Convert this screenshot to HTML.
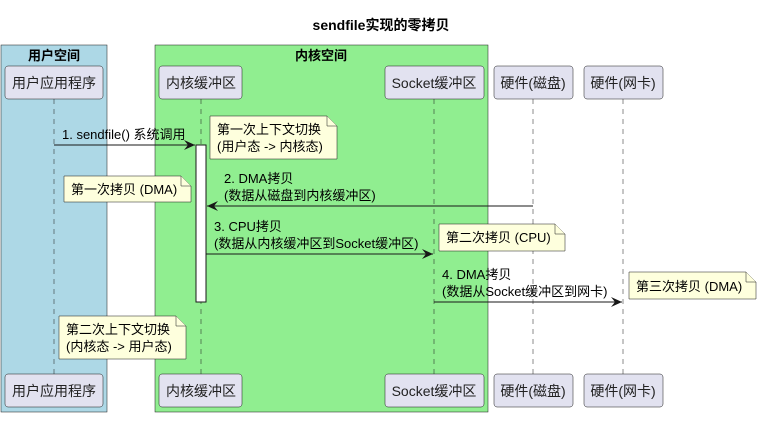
<!DOCTYPE html>
<html><head><meta charset="utf-8"><style>
body{margin:0;background:#fff}
text{font-family:"Liberation Sans","Noto Sans CJK SC",sans-serif;font-size:13px;fill:#000}
.p text{font-size:14px;fill:#222}
</style></head><body>
<svg width="762" height="417" xmlns="http://www.w3.org/2000/svg">
<defs><marker id="a" markerWidth="12" markerHeight="10" refX="11" refY="5" orient="auto" markerUnits="userSpaceOnUse"><path d="M0,0 L11,5 L0,10 L4,5 Z" fill="#181818"/></marker></defs>
<text x="381" y="30" text-anchor="middle" font-weight="bold" style="font-size:14px">sendfile实现的零拷贝</text>
<rect x="1" y="45" width="106" height="367" fill="#ADD8E6" stroke="#181818" stroke-width="0.5"/>
<text x="54" y="60" text-anchor="middle" font-weight="bold">用户空间</text>
<rect x="155" y="45" width="333" height="367" fill="#90EE90" stroke="#181818" stroke-width="0.5"/>
<text x="321" y="60" text-anchor="middle" font-weight="bold">内核空间</text>
<g stroke="#181818" stroke-width="0.5" stroke-dasharray="5,5">
<line x1="54" y1="99" x2="54" y2="374"/><line x1="201" y1="99" x2="201" y2="374"/><line x1="434" y1="99" x2="434" y2="374"/><line x1="533" y1="99" x2="533" y2="374"/><line x1="623" y1="99" x2="623" y2="374"/>
</g>
<g fill="#E2E2F0" stroke="#181818" stroke-width="0.5">
<rect x="5" y="66" width="98" height="33" rx="3"/><rect x="159" y="66" width="83" height="33" rx="3"/><rect x="385" y="66" width="99" height="33" rx="3"/><rect x="494" y="66" width="79" height="33" rx="3"/><rect x="584" y="66" width="79" height="33" rx="3"/>
<rect x="5" y="374" width="98" height="33" rx="3"/><rect x="159" y="374" width="83" height="33" rx="3"/><rect x="385" y="374" width="99" height="33" rx="3"/><rect x="494" y="374" width="79" height="33" rx="3"/><rect x="584" y="374" width="79" height="33" rx="3"/>
</g>
<g class="p" text-anchor="middle">
<text x="54" y="88">用户应用程序</text><text x="201" y="88">内核缓冲区</text><text x="434" y="88">Socket缓冲区</text><text x="533" y="88">硬件(磁盘)</text><text x="623" y="88">硬件(网卡)</text>
<text x="54" y="396">用户应用程序</text><text x="201" y="396">内核缓冲区</text><text x="434" y="396">Socket缓冲区</text><text x="533" y="396">硬件(磁盘)</text><text x="623" y="396">硬件(网卡)</text>
</g>
<rect x="196" y="145" width="10" height="157" fill="#fff" stroke="#181818" stroke-width="1"/>
<g stroke="#181818" stroke-width="1">
<line x1="54" y1="145" x2="195" y2="145" marker-end="url(#a)"/>
<line x1="533" y1="206" x2="207" y2="206" marker-end="url(#a)"/>
<line x1="206" y1="254" x2="433" y2="254" marker-end="url(#a)"/>
<line x1="434" y1="302" x2="622" y2="302" marker-end="url(#a)"/>
</g>
<text x="62" y="139">1. sendfile() 系统调用</text>
<text x="224" y="183">2. DMA拷贝</text><text x="224" y="200">(数据从磁盘到内核缓冲区)</text>
<text x="214" y="231">3. CPU拷贝</text><text x="214" y="248">(数据从内核缓冲区到Socket缓冲区)</text>
<text x="442" y="279">4. DMA拷贝</text><text x="442" y="296">(数据从Socket缓冲区到网卡)</text>
<g fill="#FEFFDD" stroke="#181818" stroke-width="0.5">
<path d="M210,116 H327 L337,126 V159 H210 Z"/><path d="M327,116 V126 H337"/>
<path d="M64,176 H181 L191,186 V202 H64 Z"/><path d="M181,176 V186 H191"/>
<path d="M439,224 H555 L565,234 V251 H439 Z"/><path d="M555,224 V234 H565"/>
<path d="M629,272 H746 L756,282 V299 H629 Z"/><path d="M746,272 V282 H756"/>
<path d="M59,316 H176 L186,326 V359 H59 Z"/><path d="M176,316 V326 H186"/>
</g>
<text x="217" y="134">第一次上下文切换</text><text x="217" y="151">(用户态 -&gt; 内核态)</text>
<text x="71" y="194">第一次拷贝 (DMA)</text>
<text x="446" y="242">第二次拷贝 (CPU)</text>
<text x="636" y="291">第三次拷贝 (DMA)</text>
<text x="66" y="334">第二次上下文切换</text><text x="66" y="351">(内核态 -&gt; 用户态)</text>
</svg>
</body></html>
